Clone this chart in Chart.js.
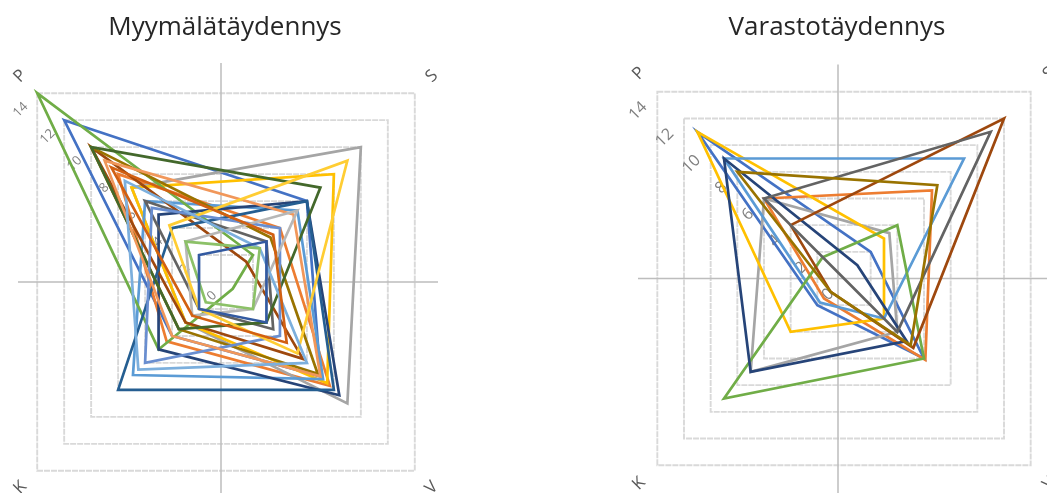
<!DOCTYPE html>
<html>
<head>
<meta charset="utf-8">
<script src="https://cdn.jsdelivr.net/npm/chart.js@4"></script>
<style>
  html, body { margin: 0; padding: 0; background: #fff; overflow: hidden; }
  canvas { position: absolute; top: 0; }
  #store { left: 0; }
  #warehouse { left: 523px; }
</style>
</head>
<body>
<canvas id="store" width="523" height="493"></canvas>
<canvas id="warehouse" width="524" height="493"></canvas>
<script>
// Axis categories and value ticks shared by both charts
const axisLabels = ['P', 'S', 'V', 'K'];
const tickValues = [0, 2, 4, 6, 8, 10, 12, 14];

// Office palette, one colour per series
const seriesColors = [
  '#4472C4', '#ED7D31', '#A5A5A5', '#FFC000', '#5B9BD5', '#70AD47', '#264478',
  '#9E480E', '#636363', '#997300', '#255E91', '#43682B', '#698ED0', '#F1975A',
  '#B7B7B7', '#FFCD33', '#7CAFDD', '#8CC168', '#335AA1', '#D26012'
];

// Myymälätäydennys: value of each series on axes P, S, V, K
const storeP = [12, 8, 7, 7, 6, 14, 5, 10, 6, 10, 4, 10, 5.5, 9, 3, 4.2, 7.5, 3, 2, 8.5];
const storeS = [6, 4, 10, 8, 5.3, 2, 6, 1.5, 3, 3.3, 6, 7, 4, 5, 5.3, 9, 2.5, 2.5, 3, 3.5];
const storeV = [7, 7.7, 9, 7.5, 7.2, 0.5, 8.4, 5.7, 3.5, 6.8, 8, 3, 4, 7, 2, 5.3, 6, 2, 3, 4.5];
const storeK = [4, 4.4, 3, 3, 6.9, 5, 5, 3, 2, 3.5, 8, 3.5, 6, 4, 2.5, 2, 6.5, 1.5, 2, 2.5];

// Varastotäydennys: value of each series on axes P, S, V, K
const warehouseP = [11, 6, 6, 11, 9, 1.6, 9, 4, 6, 8];
const warehouseS = [2, 6.6, 3.4, 3, 9, 4, 1, 12, 11, 7];
const warehouseV = [6, 6.1, 4, 3, 3, 6, 4.7, 5.2, 4, 5];
const warehouseK = [2, 1.5, 7, 4, 1.8, 9, 7, 1, 0, 1];

function buildDatasets(p, s, v, k) {
  return p.map((_, i) => ({
    label: 'Sarja ' + (i + 1),
    data: [p[i], s[i], v[i], k[i]],
    borderColor: seriesColors[i % seriesColors.length],
    backgroundColor: 'transparent',
    borderWidth: 2.7,
    pointRadius: 0,
    pointHoverRadius: 0,
    fill: false,
    clip: false,
    order: p.length - i
  }));
}

// Cross lines, value labels along the P spoke and rotated axis letters
const decorations = {
  id: 'decorations',
  beforeDatasetsDraw(chart, args, o) {
    const r = chart.scales.r;
    const ctx = chart.ctx;
    const cx = r.xCenter, cy = r.yCenter;
    const rot = r.options.startAngle * Math.PI / 180;

    ctx.save();
    ctx.strokeStyle = '#bdbdbd';
    ctx.lineWidth = 1.5;
    ctx.beginPath();
    ctx.moveTo(cx + o.crossLeft, cy);
    ctx.lineTo(cx + o.crossRight, cy);
    ctx.moveTo(cx + o.crossX, cy + o.crossTop);
    ctx.lineTo(cx + o.crossX, chart.height);
    ctx.stroke();
    ctx.restore();

    // value labels
    ctx.save();
    ctx.translate(cx, cy);
    ctx.rotate(rot);
    ctx.fillStyle = '#7f7f7f';
    ctx.font = o.tickFont;
    ctx.textAlign = 'right';
    ctx.textBaseline = 'middle';
    r.ticks.forEach(t => {
      ctx.fillText(t.label, o.tickDx, -r.getDistanceFromCenterForValue(t.value));
    });
    ctx.restore();

    // axis letters
    ctx.save();
    ctx.fillStyle = '#595959';
    ctx.font = o.labelFont;
    ctx.textAlign = 'center';
    ctx.textBaseline = 'middle';
    axisLabels.forEach((lab, i) => {
      const pos = r.getPointPosition(i, r.drawingArea + o.labelGap);
      ctx.save();
      ctx.translate(pos.x, pos.y);
      ctx.rotate(rot);
      ctx.fillText(lab, 0, 0);
      ctx.restore();
    });
    ctx.restore();
  }
};

function makeChart(id, title, datasets, geo) {
  return new Chart(document.getElementById(id), {
    type: 'radar',
    data: { labels: axisLabels, datasets },
    plugins: [decorations],
    options: {
      responsive: false,
      animation: false,
      layout: { padding: { left: geo.padLeft, right: geo.padRight, top: 0, bottom: 0 } },
      plugins: {
        legend: { display: false },
        tooltip: { enabled: false },
        title: {
          display: true,
          text: title,
          color: '#262626',
          font: { family: 'Open Sans', size: 26, weight: 'normal' },
          padding: { top: 12, bottom: 0 }
        },
        decorations: geo.decor
      },
      scales: {
        r: {
          min: 0,
          max: 14,
          startAngle: -45,
          afterBuildTicks: s => { s.ticks = tickValues.map(v => ({ value: v })); },
          afterFit: s => {
            s.xCenter = geo.cx;
            s.yCenter = geo.cy;
            s.drawingArea = geo.radius;
          },
          ticks: { display: false, stepSize: 2 },
          pointLabels: { display: false },
          angleLines: { display: false },
          grid: { color: '#d9d9d9', lineWidth: 1.9 },
          border: { dash: [6, 1] }
        }
      }
    }
  });
}

makeChart('store', 'Myymälätäydennys',
  buildDatasets(storeP, storeS, storeV, storeK),
  {
    cx: 226, cy: 282, radius: 267, padLeft: 0, padRight: 73,
    decor: { crossLeft: -208, crossRight: 212, crossX: -5, crossTop: -219,
             tickDx: -16, tickFont: '13px "Open Sans"', labelFont: '17px "Open Sans"', labelGap: 24 }
  });

makeChart('warehouse', 'Varastotäydennys',
  buildDatasets(warehouseP, warehouseS, warehouseV, warehouseK),
  {
    cx: 321, cy: 278.5, radius: 264, padLeft: 104, padRight: 0,
    decor: { crossLeft: -206, crossRight: 260, crossX: -6, crossTop: -214,
             tickDx: -18, tickFont: '16px "Open Sans"', labelFont: '17px "Open Sans"', labelGap: 26 }
  });
</script>
</body>
</html>
